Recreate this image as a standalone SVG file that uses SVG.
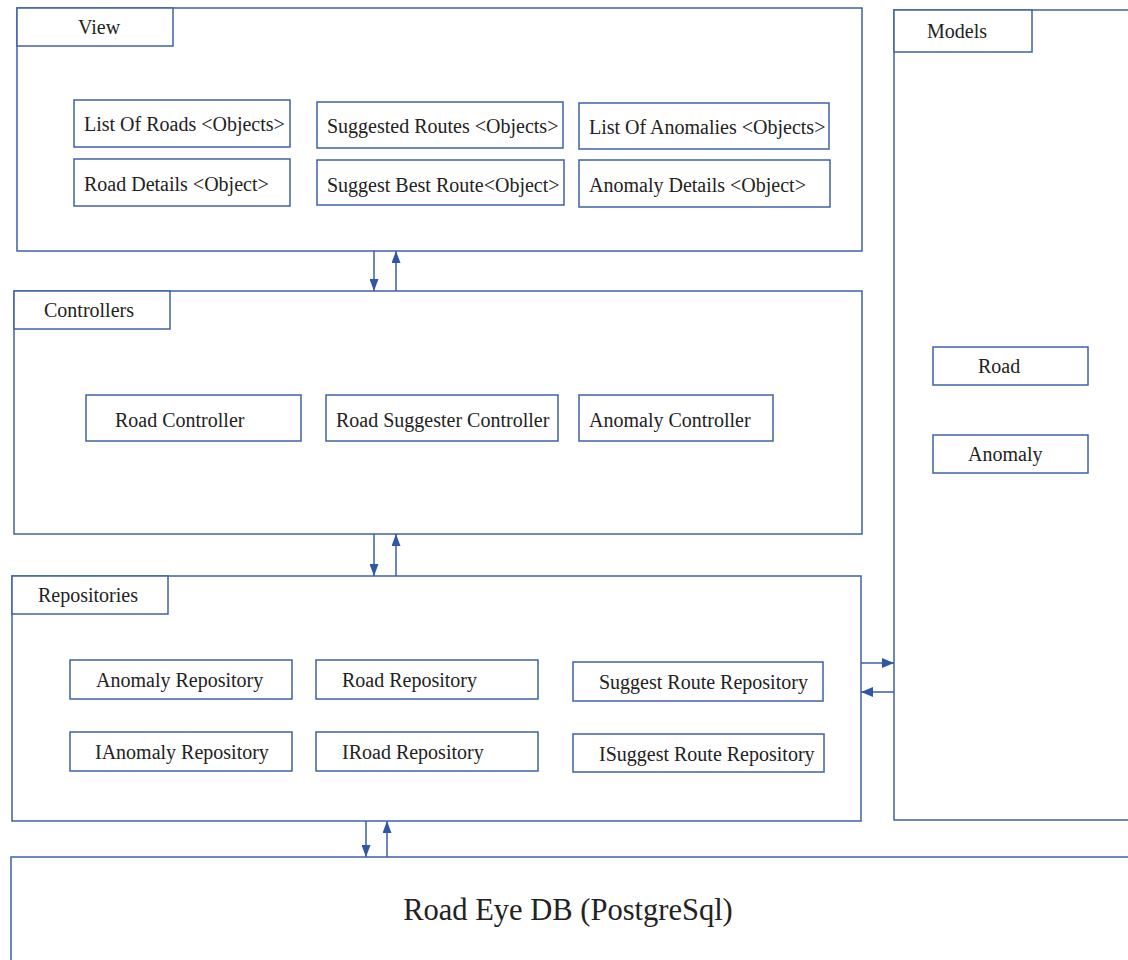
<svg xmlns="http://www.w3.org/2000/svg" width="1128" height="960" viewBox="0 0 1128 960">
  <defs>
    <style>
      .box { fill: #ffffff; stroke: #3f62a6; stroke-width: 1.5; }
      .tab { fill: #ffffff; stroke: #3f62a6; stroke-width: 1.5; }
      .lbl { font-family: "Liberation Serif", "Times New Roman", serif; font-size: 20px; fill: #222222; }
      .big { font-family: "Liberation Serif", "Times New Roman", serif; font-size: 30.5px; fill: #222222; }
      .conn { stroke: #3a5fa8; stroke-width: 1.5; fill: none; }
    </style>
    <marker id="arr" viewBox="0 0 10 10" refX="10" refY="5" markerWidth="12" markerHeight="9" markerUnits="userSpaceOnUse" orient="auto" preserveAspectRatio="none">
      <path d="M0,0 L10,5 L0,10 Z" fill="#2f57a3"/>
    </marker>
    <marker id="arrw" viewBox="0 0 10 10" refX="10" refY="5" markerWidth="12" markerHeight="10" markerUnits="userSpaceOnUse" orient="auto" preserveAspectRatio="none">
      <path d="M0,0 L10,5 L0,10 Z" fill="#2f57a3"/>
    </marker>
  </defs>
  <rect width="1128" height="960" fill="#ffffff"/>

  <!-- View layer -->
  <g id="view">
    <rect class="box" x="17" y="8" width="845" height="243"/>
    <rect class="tab" x="17" y="8" width="156" height="38"/>
    <text class="lbl" x="78" y="34">View</text>
  </g>
  <g id="view-list-roads">
    <rect class="box" x="74" y="100" width="216" height="47"/>
    <text class="lbl" x="84" y="131">List Of Roads &lt;Objects&gt;</text>
  </g>
  <g id="view-road-details">
    <rect class="box" x="74" y="159" width="216" height="47"/>
    <text class="lbl" x="84" y="191">Road Details &lt;Object&gt;</text>
  </g>
  <g id="view-suggested-routes">
    <rect class="box" x="317" y="102" width="246" height="46"/>
    <text class="lbl" x="327" y="133">Suggested Routes &lt;Objects&gt;</text>
  </g>
  <g id="view-best-route">
    <rect class="box" x="317" y="160" width="247" height="45"/>
    <text class="lbl" x="327" y="192">Suggest Best Route&lt;Object&gt;</text>
  </g>
  <g id="view-list-anomalies">
    <rect class="box" x="579" y="103" width="250" height="46"/>
    <text class="lbl" x="589" y="134">List Of Anomalies &lt;Objects&gt;</text>
  </g>
  <g id="view-anomaly-details">
    <rect class="box" x="579" y="160" width="251" height="47"/>
    <text class="lbl" x="589" y="192">Anomaly Details &lt;Object&gt;</text>
  </g>

  <!-- Controllers layer -->
  <g id="controllers">
    <rect class="box" x="14" y="291" width="848" height="243"/>
    <rect class="tab" x="14" y="291" width="156" height="38"/>
    <text class="lbl" x="44" y="317">Controllers</text>
  </g>
  <g id="road-controller">
    <rect class="box" x="86" y="395" width="215" height="46"/>
    <text class="lbl" x="115" y="427">Road Controller</text>
  </g>
  <g id="road-suggester-controller">
    <rect class="box" x="326" y="395" width="232" height="46"/>
    <text class="lbl" x="336" y="427">Road Suggester Controller</text>
  </g>
  <g id="anomaly-controller">
    <rect class="box" x="579" y="395" width="194" height="46"/>
    <text class="lbl" x="589" y="427">Anomaly Controller</text>
  </g>

  <!-- Repositories layer -->
  <g id="repositories">
    <rect class="box" x="12" y="576" width="849" height="245"/>
    <rect class="tab" x="12" y="576" width="156" height="38"/>
    <text class="lbl" x="38" y="602">Repositories</text>
  </g>
  <g id="anomaly-repository">
    <rect class="box" x="70" y="660" width="222" height="39"/>
    <text class="lbl" x="96" y="687">Anomaly Repository</text>
  </g>
  <g id="ianomaly-repository">
    <rect class="box" x="70" y="732" width="222" height="39"/>
    <text class="lbl" x="95" y="759">IAnomaly Repository</text>
  </g>
  <g id="road-repository">
    <rect class="box" x="316" y="660" width="222" height="39"/>
    <text class="lbl" x="342" y="687">Road Repository</text>
  </g>
  <g id="iroad-repository">
    <rect class="box" x="316" y="732" width="222" height="39"/>
    <text class="lbl" x="342" y="759">IRoad Repository</text>
  </g>
  <g id="suggest-route-repository">
    <rect class="box" x="573" y="662" width="250" height="39"/>
    <text class="lbl" x="599" y="689">Suggest Route Repository</text>
  </g>
  <g id="isuggest-route-repository">
    <rect class="box" x="573" y="734" width="251" height="38"/>
    <text class="lbl" x="599" y="761">ISuggest Route Repository</text>
  </g>

  <!-- Models column -->
  <g id="models">
    <rect class="box" x="894" y="10" width="250" height="810"/>
    <rect class="tab" x="894" y="10" width="138" height="42"/>
    <text class="lbl" x="927" y="38">Models</text>
  </g>
  <g id="model-road">
    <rect class="box" x="933" y="347" width="155" height="38"/>
    <text class="lbl" x="978" y="373">Road</text>
  </g>
  <g id="model-anomaly">
    <rect class="box" x="933" y="435" width="155" height="38"/>
    <text class="lbl" x="968" y="461">Anomaly</text>
  </g>

  <!-- Database -->
  <g id="database">
    <rect class="box" x="11" y="857" width="1140" height="120"/>
    <text class="big" x="568" y="920" text-anchor="middle">Road Eye DB (PostgreSql)</text>
  </g>

  <!-- Connectors -->
  <g id="connectors">
    <line class="conn" x1="374" y1="251" x2="374" y2="291" marker-end="url(#arr)"/>
    <line class="conn" x1="396" y1="291" x2="396" y2="251" marker-end="url(#arr)"/>
    <line class="conn" x1="374" y1="534" x2="374" y2="576" marker-end="url(#arr)"/>
    <line class="conn" x1="396" y1="576" x2="396" y2="534" marker-end="url(#arr)"/>
    <line class="conn" x1="366" y1="821" x2="366" y2="857" marker-end="url(#arr)"/>
    <line class="conn" x1="387" y1="857" x2="387" y2="821" marker-end="url(#arr)"/>
    <line class="conn" x1="861" y1="663" x2="894" y2="663" marker-end="url(#arrw)"/>
    <line class="conn" x1="894" y1="692" x2="861" y2="692" marker-end="url(#arrw)"/>
  </g>
</svg>
